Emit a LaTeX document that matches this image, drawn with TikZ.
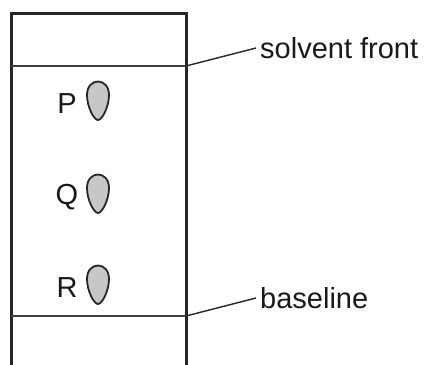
\documentclass[tikz,border=0pt]{standalone}
\usepackage{fontspec}
\setmainfont{Liberation Sans}
\usetikzlibrary{positioning}
\tikzset{
    x = 1pt, y = -1pt,
    tank/.style = {line width = 3pt, draw = black!85},
    level/.style = {line width = 1.4pt, draw = black!75},
    leader/.style = {line width = 1.4pt, draw = black!85},
    tag/.style = {font = \fontsize{29}{34}\selectfont, text = black!90, inner sep = 4pt},
    spot/.pic = {
        \draw [line width = 1.8pt, draw = black!85, fill = black!22]
            (-11,-6) .. controls (-11,-24) and (11,-24) .. (11,-6)
            .. controls (11,6) and (4,19) .. (0,19)
            .. controls (-4,19) and (-11,6) .. (-11,-6) -- cycle;
    },
}
\begin{document}
\begin{tikzpicture}
    \useasboundingbox (0,0) rectangle (425,364);

    \draw [tank] (11,370) -- (11,13) -- (186,13) -- (186,370);

    \coordinate (front L) at (11,66);
    \coordinate (front R) at (186,66);
    \coordinate (base L) at (11,316);
    \coordinate (base R) at (186,316);
    \draw [level] (front L) -- (front R);
    \draw [level] (base L) -- (base R);

    \node (front) [tag, anchor = west] at (256,48) {solvent front};
    \node (base) [tag, anchor = west] at (256,298) {baseline};
    \draw [leader] (front R) -- (front.west);
    \draw [leader] (base R) -- (base.west);

    \foreach \name/\ypos in {P/104, Q/197, R/288} {
        \node (\name) [tag] at (67,\ypos) {\name};
        \pic at ([xshift = 31pt, yshift = 3pt]\name.center) {spot};
    }
\end{tikzpicture}
\end{document}
